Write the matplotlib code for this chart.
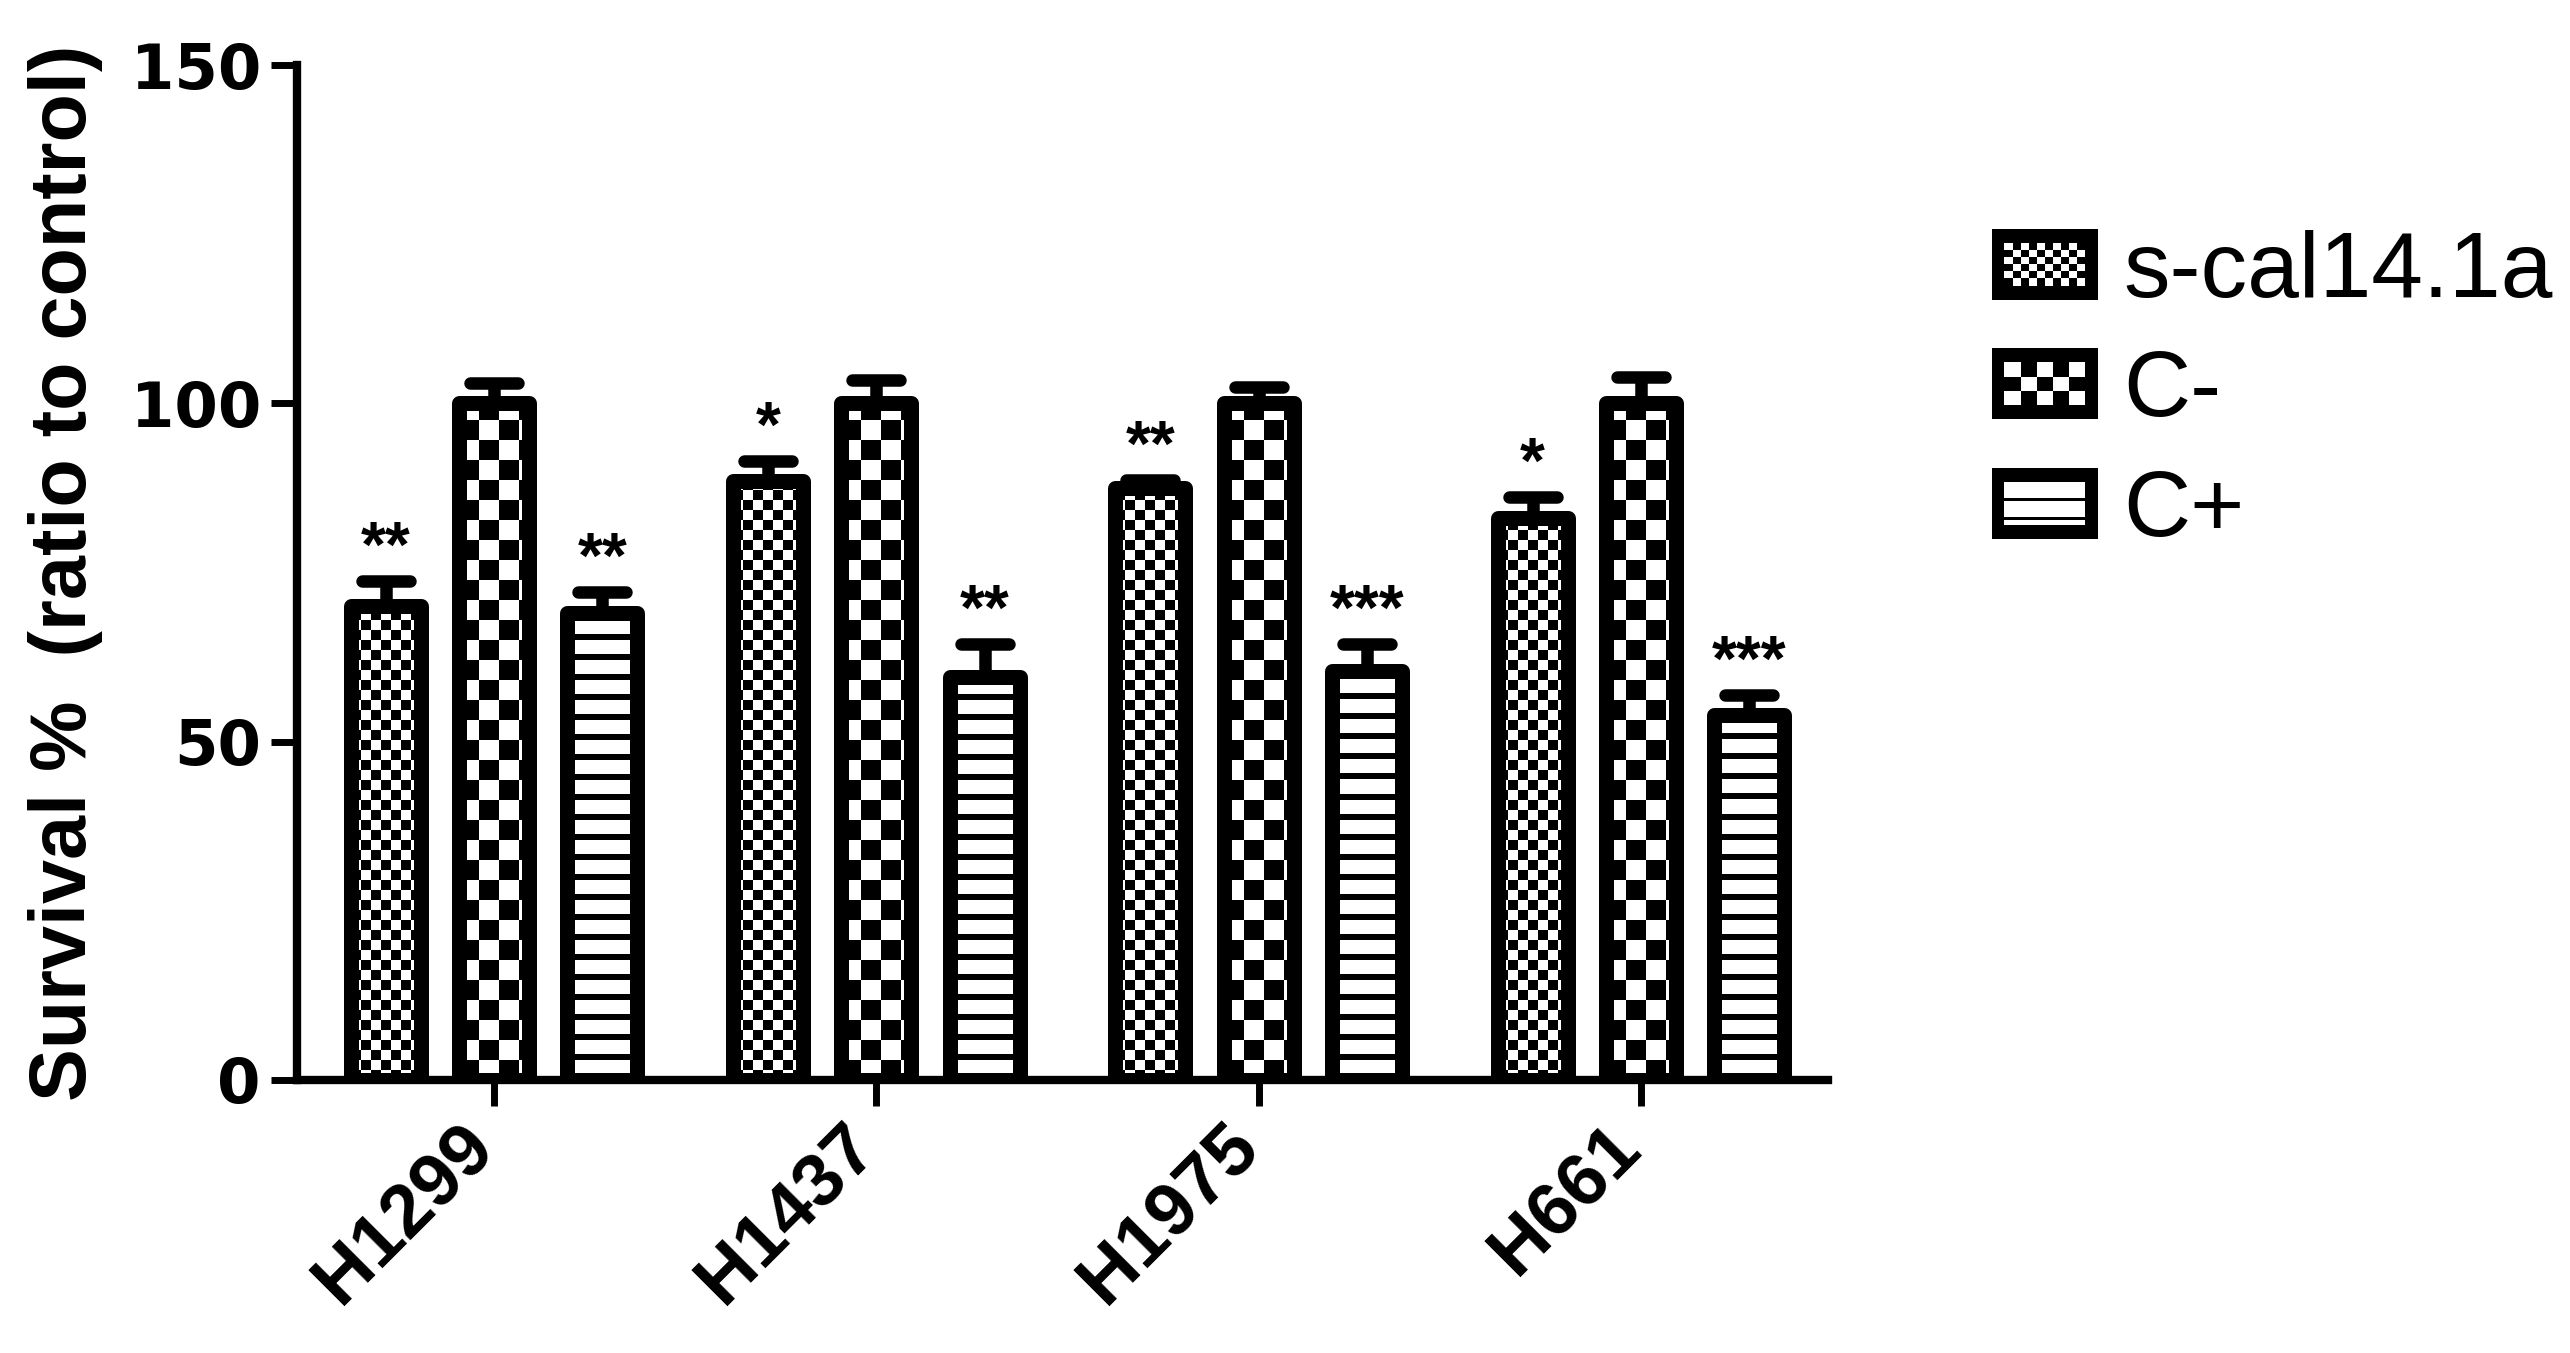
import numpy as np
import matplotlib.pyplot as plt
from matplotlib.patches import Patch, Rectangle
from matplotlib.legend_handler import HandlerBase
from matplotlib.markers import MarkerStyle
from matplotlib.transforms import ScaledTranslation

cells = ['H1299', 'H1437', 'H1975', 'H661']
series = ['s-cal14.1a', 'C-', 'C+']
scal = [70, 88.5, 87.5, 83]
scal_err = [3.8, 3, 1.2, 3.2]
cneg = [100, 100, 100, 100]
cneg_err = [3, 3.5, 2.5, 3.9]
cpos = [69, 59.5, 60.5, 54]
cpos_err = [3.2, 5, 4, 2.9]
scal_sig = ['**', '*', '**', '*']
cneg_sig = ['', '', '', '']
cpos_sig = ['**', '**', '***', '***']

W, H = 2570, 1353
fig = plt.figure(figsize=(W / 100, H / 100), dpi=100)
ax = fig.add_axes([0.1156, 0.2018, 0.5957, 0.750])
XMIN, XMAX = -0.516, 3.49
PX_X = 0.5957 * W / (XMAX - XMIN)
PX_Y = 0.750 * H / 150.0


def add_texture(bar, kind):
    x0 = bar.get_x()
    w = bar.get_width()
    h = bar.get_height()
    if kind == 'lines':
        cw, ch = w, 2 / PX_Y
        nr = int(np.ceil(h / ch)) + 1
        arr = ((np.arange(nr) % 10) >= 3).astype(float)[:, None]
        nc = 1
    else:
        size = 10 if kind == 'fine' else 20
        cw, ch = size / PX_X, size / PX_Y
        nc = int(np.ceil(w / cw)) + 1
        nr = int(np.ceil(h / ch)) + 1
        arr = (np.add.outer(np.arange(nr), np.arange(nc)) % 2).astype(float)
    im = ax.imshow(arr, cmap='gray', vmin=0, vmax=1, origin='lower',
                   extent=(x0, x0 + nc * cw, 0, nr * ch), aspect='auto',
                   interpolation='nearest', zorder=2)
    im.set_clip_path(bar)


class PatternHandler(HandlerBase):
    def __init__(self, kind):
        super().__init__()
        self.kind = kind

    def create_artists(self, legend, orig_handle, xdescent, ydescent,
                       width, height, fontsize, trans):
        x0, y0 = -xdescent, -ydescent
        arts = [Rectangle((x0, y0), width, height, facecolor='k',
                          edgecolor='none', transform=trans)]
        ix, iy = width * 0.12, height * 0.2
        iw, ih = width - 2 * ix, height - 2 * iy
        if self.kind == 'lines':
            for a, b in [(0, 0.37), (0.44, 0.83), (0.89, 1.0)]:
                arts.append(Rectangle((x0 + ix, y0 + iy + ih * (1 - b)), iw, ih * (b - a),
                                      facecolor='w', edgecolor='none', transform=trans))
        else:
            nc, nr = (10, 6) if self.kind == 'fine' else (5, 3)
            cw, ch = iw / nc, ih / nr
            for r in range(nr):
                for c in range(nc):
                    if (r + c) % 2 == 0:
                        arts.append(Rectangle((x0 + ix + c * cw, y0 + iy + ih - (r + 1) * ch),
                                              cw, ch, facecolor='w', edgecolor='none',
                                              transform=trans))
        return arts


x = np.arange(len(cells))
offsets = [-0.283, 0, 0.283]
width = 0.183
kinds = ['fine', 'coarse', 'lines']
vals = [scal, cneg, cpos]
errs = [scal_err, cneg_err, cpos_err]
sigs = [scal_sig, cneg_sig, cpos_sig]

for off, kind, v, e, s in zip(offsets, kinds, vals, errs, sigs):
    xs = x + off
    bars = ax.bar(xs, v, width, facecolor='none', edgecolor='k', linewidth=10.8,
                  joinstyle='round', zorder=3)
    for b in bars:
        add_texture(b, kind)
    eb = ax.errorbar(xs, v, yerr=[np.zeros(len(v)), e], fmt='none', ecolor='k',
                     elinewidth=9, capsize=17, capthick=9, zorder=1)
    for cl in eb[1]:
        cl.set_marker(MarkerStyle('_', capstyle='round'))
    for xi, vi, ei, si in zip(xs, v, e, s):
        if si:
            ax.annotate(si, (xi, vi + ei), xytext=(0, 10), textcoords='offset points',
                        ha='center', va='baseline', fontsize=46, fontweight='bold',
                        family='Liberation Sans')

ax.set_xlim(XMIN, XMAX)
ax.set_ylim(0, 150)
ax.set_yticks([0, 50, 100, 150])
ax.spines['top'].set_visible(False)
ax.spines['right'].set_visible(False)
for sp in ['left', 'bottom']:
    ax.spines[sp].set_linewidth(6)
ax.tick_params(axis='both', length=19, width=5, direction='out')
ax.tick_params(axis='y', pad=7)
for lbl in ax.get_yticklabels():
    lbl.set_fontsize(45)
    lbl.set_fontweight('bold')
    lbl.set_family('DejaVu Sans')

ax.set_xticks(x)
ax.set_xticklabels(cells, rotation=45, ha='right', va='top', rotation_mode='anchor',
                   fontsize=54, fontweight='bold', family='Liberation Sans')
for lbl in ax.get_xticklabels():
    lbl.set_transform(lbl.get_transform() + ScaledTranslation(-0.36, 0, fig.dpi_scale_trans))

ax.set_ylabel('Survival %  (ratio to control)', fontsize=57, fontweight='bold',
              family='Liberation Sans')
ax.yaxis.set_label_coords(-0.127, 0.5)

handles = [Patch(), Patch(), Patch()]
hmap = {h: PatternHandler(k) for h, k in zip(handles, kinds)}
ax.legend(handles, series, handler_map=hmap, frameon=False, loc='upper left',
          bbox_to_anchor=(0.775, 0.831), bbox_transform=fig.transFigure,
          prop={'family': 'Liberation Sans', 'size': 67}, handlelength=1.14,
          handleheight=0.8, handletextpad=0.27, labelspacing=0.35,
          borderpad=0, borderaxespad=0)

fig.savefig('out.png', dpi=100)
